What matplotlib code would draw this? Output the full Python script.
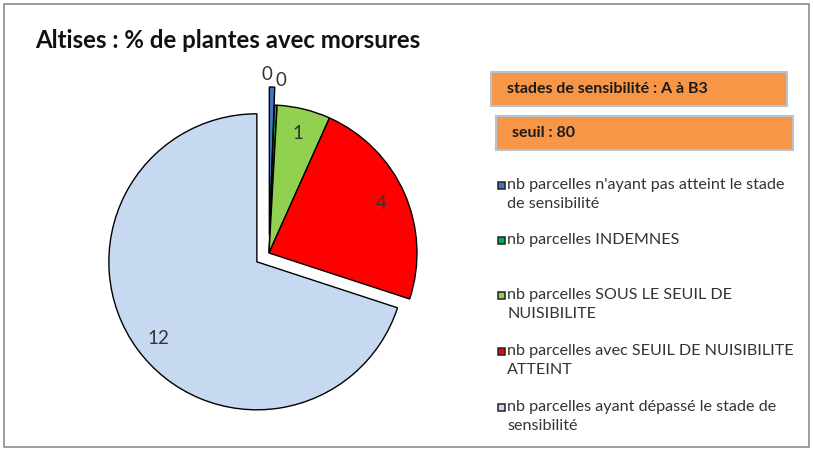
import matplotlib
matplotlib.use("Agg")
import matplotlib.pyplot as plt
from matplotlib.patches import Rectangle

plt.rcParams['font.family'] = ['Lato', 'DejaVu Sans']

# data
categories = [
    "nb parcelles n'ayant pas atteint le stade\nde sensibilité",
    "nb parcelles INDEMNES",
    "nb parcelles SOUS LE SEUIL DE\nNUISIBILITE",
    "nb parcelles avec SEUIL DE NUISIBILITE\nATTEINT",
    "nb parcelles ayant dépassé le stade de\nsensibilité",
]
values = [0.1, 0.05, 1, 4, 12]   # the two "0" slices show as thin slivers
colors = ["#4472C4", "#00B050", "#92D050", "#FF0000", "#C6D9F1"]
explode = [18, 0, 0, 0, 15]      # in pixels (axes are in pixel units)
title = "Altises : % de plantes avec morsures"
info = ["stades de sensibilité : A à B3", "seuil : 80"]

W, H = 813, 450
fig = plt.figure(figsize=(W / 100, H / 100), dpi=100)
ax = fig.add_axes([0, 0, 1, 1])

total = sum(values)
wedges, texts, autotexts = ax.pie(
    values, colors=colors, explode=explode, startangle=90, counterclock=False,
    center=(269, H - 253), radius=148,
    autopct=lambda p: "%d" % round(p * total / 100), pctdistance=0.83,
    wedgeprops=dict(edgecolor="black", linewidth=1.0),
    textprops=dict(fontsize=13.5, color="#333333"))

# the zero labels sit above the pie
autotexts[0].set_position((267, H - 75))
autotexts[1].set_position((281, H - 81))
autotexts[4].set_position((158, H - 338))

ax.set_xlim(0, W)
ax.set_ylim(0, H)
ax.set_axis_off()

# frame
ax.add_patch(Rectangle((4, 3), 805, 443, fill=False, edgecolor="#8c8c8c", linewidth=1.2))

ax.text(35, H - 40, title, fontsize=17.3, fontweight="bold", color="#111111", va="center")

# orange boxes
boxes = [(491, 72, 296), (496, 116, 297)]
for (x, y, w), txt in zip(boxes, info):
    ax.add_patch(Rectangle((x, H - y - 34), w, 34, facecolor="#F79646",
                           edgecolor="#b9c3cf", linewidth=1.5))
    ax.text(x + 16, H - y - 17, txt, fontsize=11.5, fontweight="bold",
            color="#1a1a1a", va="center")

# legend
leg_y = [185, 240, 295, 351, 407]
for yy, lab, c in zip(leg_y, categories, colors):
    ax.add_patch(Rectangle((498, H - yy - 4), 7, 7, facecolor=c,
                           edgecolor="#222222", linewidth=1.1))
    ax.text(507, H - yy + 7, lab, fontsize=11.6, color="#333333",
            va="top", linespacing=1.5)

fig.savefig("out.png", dpi=100)
